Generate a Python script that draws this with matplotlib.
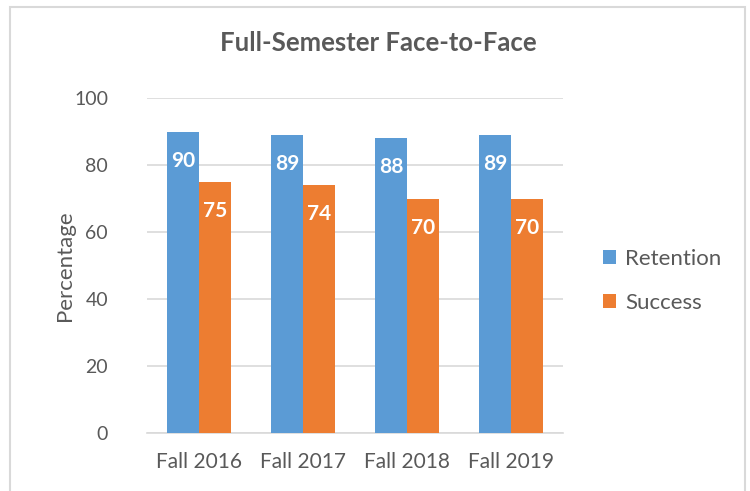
import matplotlib
matplotlib.use("Agg")
import matplotlib.pyplot as plt
from matplotlib.patches import Rectangle
import numpy as np

categories = ["Fall 2016", "Fall 2017", "Fall 2018", "Fall 2019"]
retention = [90, 89, 88, 89]
success = [75, 74, 70, 70]
series_names = ["Retention", "Success"]
yticks = [0, 20, 40, 60, 80, 100]

plt.rcParams['font.family'] = ['Lato', 'DejaVu Sans']
text_color = "#595959"
grid_color = "#D9D9D9"
blue = "#5B9BD5"
orange = "#ED7D31"

fig = plt.figure(figsize=(7.5, 4.91), dpi=100)
fig.patches.append(Rectangle((10/750, -0.05), 735/750, 1 - 7/491 + 0.05,
                             transform=fig.transFigure, fill=False,
                             edgecolor=grid_color, linewidth=1.5))
ax = fig.add_axes([147/750, 1 - 433/491, (563-147)/750, (433-98)/491])

x = np.arange(len(categories))
w = 0.31
b1 = ax.bar(x - w/2, retention, w, color=blue, label=series_names[0], zorder=3)
b2 = ax.bar(x + w/2, success, w, color=orange, label=series_names[1], zorder=3)

for bars, vals in ((b1, retention), (b2, success)):
    for rect, v in zip(bars, vals):
        ax.annotate(f"{v}", (rect.get_x() + rect.get_width()/2, v),
                    xytext=(0, -21), textcoords="offset points",
                    ha="center", va="center", color="white",
                    fontsize=15, fontweight="bold", zorder=4)

ax.set_xlim(-0.5, len(categories) - 0.5)
ax.set_ylim(0, 100)
ax.set_yticks(yticks)
ax.set_xticks(x)
ax.set_xticklabels(categories)
ax.yaxis.grid(True, color=grid_color, linewidth=1.2, zorder=0)
ax.set_axisbelow(True)
for s in ["top", "right", "left"]:
    ax.spines[s].set_visible(False)
ax.spines["bottom"].set_color(grid_color)
ax.spines["bottom"].set_linewidth(1.2)
ax.tick_params(axis="x", length=0, labelsize=15, colors=text_color, pad=14)
ax.tick_params(axis="y", length=0, labelsize=14, colors=text_color, pad=28)
ax.set_ylabel("Percentage", fontsize=16, color=text_color)
ax.yaxis.set_label_coords(-0.172, 0.5)

fig.text(378/750, 1 - 43/491, "Full-Semester Face-to-Face", ha="center", va="center",
         fontsize=18.5, fontweight="bold", color=text_color)

leg = fig.legend(handles=[b1, b2], labels=series_names, loc="center left",
                 bbox_to_anchor=(583/750, 1 - 281/491), frameon=False,
                 fontsize=16, handlelength=0.6, handleheight=0.6,
                 handletextpad=0.4, labelspacing=1.1, labelcolor=text_color)

fig.savefig("out.png", dpi=100)
